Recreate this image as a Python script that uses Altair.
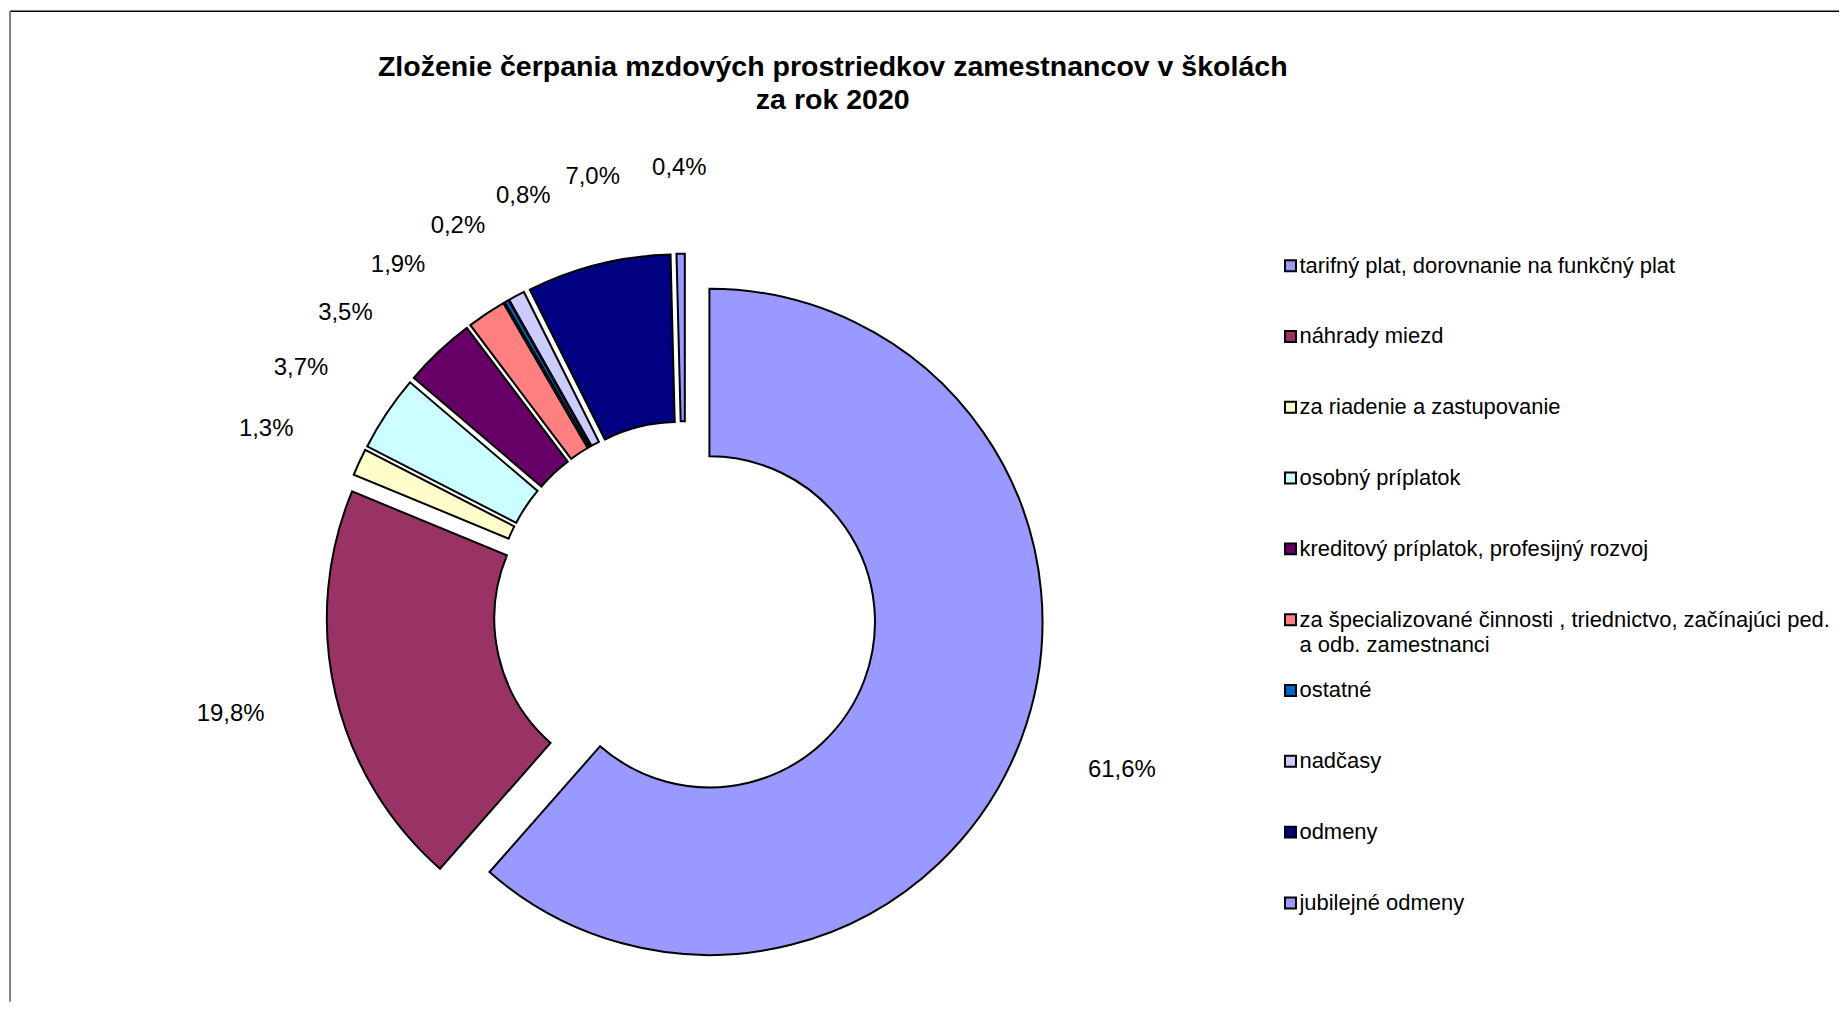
import math
import altair as alt
import pandas as pd

# ---------------- data ----------------
names = [
    "tarifný plat, dorovnanie na funkčný plat",
    "náhrady miezd",
    "za riadenie a zastupovanie",
    "osobný príplatok",
    "kreditový príplatok, profesijný rozvoj",
    "za špecializované činnosti , triednictvo, začínajúci ped.\na odb. zamestnanci",
    "ostatné",
    "nadčasy",
    "odmeny",
    "jubilejné odmeny",
]
values = [61.6, 19.8, 1.3, 3.7, 3.5, 1.9, 0.2, 0.8, 7.0, 0.4]
colors = ["#9999FF", "#993366", "#FFFFCC", "#CCFFFF", "#660066",
          "#FF8080", "#0066CC", "#CCCCFF", "#000080", "#9999FF"]
title_lines = ["Zloženie čerpania mzdových prostriedkov zamestnancov v školách",
               "za rok 2020"]

# ---------------- layout constants ----------------
W, H = 1836, 995
CX, CY = 679, 605          # donut centre (view px)
R_OUT, R_IN = 334, 166     # radii
EXPLODE = 26               # slice explosion distance
R_LAB = 434                # label distance
MIN_SEP = 9.0              # minimal angular gap between labels (deg)
FONT = "Liberation Sans"
FS_LAB = 24
FS_LEG = 22
LEG_X, LEG_TX = 1286, 1295
LEG_RANGE = [257, 896]

CHAR_W = {",": 0.278, "%": 0.889}


def text_width(s, fs):
    return sum(CHAR_W.get(c, 0.556) for c in s) * fs


def spread(angles, sep):
    """Push apart label angles that are closer than `sep` degrees."""
    groups = [[i] for i in range(len(angles))]

    def place(g):
        c = sum(angles[i] for i in g) / len(g)
        return [c + (k - (len(g) - 1) / 2) * sep for k in range(len(g))]

    changed = True
    while changed:
        changed = False
        for j in range(len(groups) - 1):
            a = place(groups[j])
            b = place(groups[j + 1])
            if b[0] - a[-1] < sep - 1e-9:
                groups[j] = groups[j] + groups[j + 1]
                del groups[j + 1]
                changed = True
                break
    out = [0.0] * len(angles)
    for g in groups:
        for i, a in zip(g, place(g)):
            out[i] = a
    return out


total = sum(values)
rows = []
cum = 0.0
for i, (n, v) in enumerate(zip(names, values)):
    t0 = 2 * math.pi * cum / total
    cum += v
    t1 = 2 * math.pi * cum / total
    mid = (t0 + t1) / 2
    rows.append(dict(
        idx=i, name=n, value=v, t0=t0, t1=t1, mid=mid,
        cx=CX + EXPLODE * math.sin(mid),
        cy=CY - EXPLODE * math.cos(mid),
        label=f"{v:.1f}".replace(".", ",") + "%",
    ))
df = pd.DataFrame(rows)

lab_deg = spread([math.degrees(m) for m in df["mid"]], MIN_SEP)
lx, ly = [], []
for a_deg, lab in zip(lab_deg, df["label"]):
    a = math.radians(a_deg)
    hw = text_width(lab, FS_LAB) / 2
    hh = FS_LAB / 2
    lx.append(CX + R_LAB * math.sin(a) + hw * math.sin(a))
    ly.append(CY - R_LAB * math.cos(a) - hh * math.cos(a))
df["lx"] = lx
df["ly"] = ly

color_scale = alt.Scale(domain=names, range=colors)
leg_scale = alt.Scale(type="point", domain=names, range=LEG_RANGE, padding=0)

one = pd.DataFrame({"t": ["\n".join(title_lines)]})

border_top = alt.Chart(one).mark_rule(color="black", strokeWidth=1.5).encode(
    x=alt.value(2), x2=alt.value(W), y=alt.value(2))
border_left = alt.Chart(one).mark_rule(color="#808080", strokeWidth=2).encode(
    x=alt.value(2), y=alt.value(2), y2=alt.value(H))

arcs = alt.Chart(df).mark_arc(
    radius=R_OUT, radius2=R_IN, stroke="black", strokeWidth=2
).encode(
    x=alt.X("cx:Q", scale=None),
    y=alt.Y("cy:Q", scale=None),
    theta=alt.Theta("t0:Q", scale=None),
    theta2="t1:Q",
    fill=alt.Fill("name:N", scale=color_scale, legend=None),
)

labels = alt.Chart(df).mark_text(
    font=FONT, fontSize=FS_LAB, color="black", align="center", baseline="middle"
).encode(
    x=alt.X("lx:Q", scale=None),
    y=alt.Y("ly:Q", scale=None),
    text="label:N",
)

leg_sym = alt.Chart(df).mark_square(
    size=121, stroke="black", strokeWidth=2, opacity=1
).encode(
    x=alt.value(LEG_X),
    y=alt.Y("name:N", scale=leg_scale, axis=None),
    fill=alt.Fill("name:N", scale=color_scale, legend=None),
)

leg_txt = alt.Chart(df).mark_text(
    font=FONT, fontSize=FS_LEG, color="black", align="left", baseline="middle",
    lineBreak="\n", lineHeight=25
).encode(
    x=alt.value(LEG_TX),
    y=alt.Y("name:N", scale=leg_scale, axis=None),
    text="name:N",
)

title = alt.Chart(one).mark_text(
    font=FONT, fontSize=28.6, fontWeight="bold", color="black",
    align="center", baseline="middle", lineBreak="\n", lineHeight=33
).encode(x=alt.value(827), y=alt.value(58), text="t:N")

chart = alt.layer(
    border_top, border_left, arcs, labels, leg_sym, leg_txt, title
).resolve_scale(
    x="independent", y="independent"
).properties(
    width=W, height=H, padding=0,
    autosize=alt.AutoSizeParams(type="none"),
    background="white",
).configure_view(stroke=None)

chart.save("out.html", embed_options={"renderer": "svg", "actions": False})
